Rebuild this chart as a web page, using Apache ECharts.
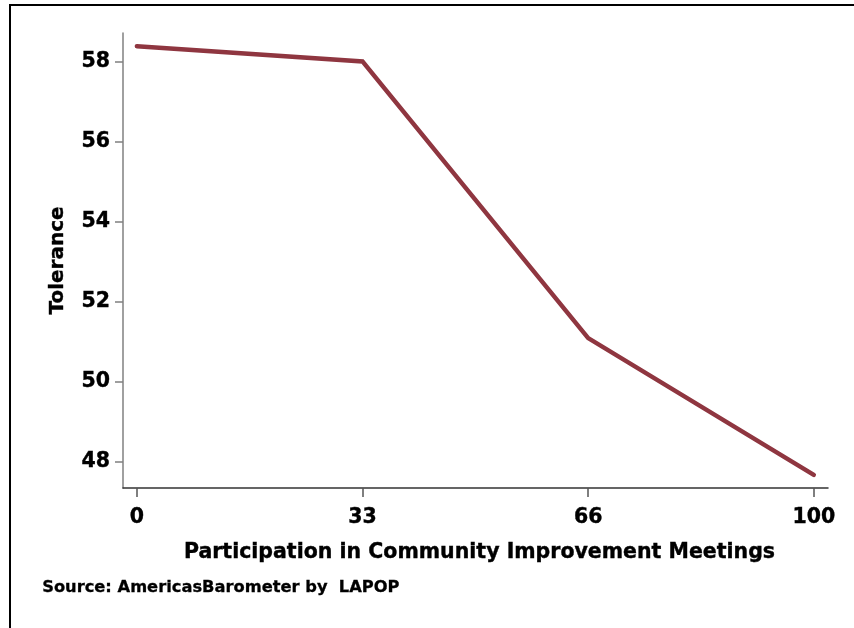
<!DOCTYPE html>
<html>
<head>
<meta charset="utf-8">
<script src="https://cdn.jsdelivr.net/npm/echarts@6/dist/echarts.min.js"></script>
<style>
  html, body { margin: 0; padding: 0; background: #fff; }
  #main { width: 854px; height: 628px; }
</style>
</head>
<body>
<div id="main"></div>
<script>
// participation levels (0-100 scale) and mean tolerance
const participation = [0, 33.33, 66.67, 100];
const tolerance = [58.39, 58.01, 51.09, 47.67];
const xTicks = [0, 33.33, 66.67, 100];
const yTicks = [48, 50, 52, 54, 56, 58];

const font = '"DejaVu Sans", sans-serif';
// a little heavier, like the original export
const heavy = { textBorderColor: '#000', textBorderWidth: 0.4 };

const dom = document.getElementById('main');
const myChart = echarts.init(dom);

let option = {
  animation: false,
  grid: { left: 123, top: 33, right: 26, bottom: 140 },
  xAxis: {
    type: 'value',
    min: -2.05,
    max: 102.1,
    name: 'Participation in Community Improvement Meetings',
    nameLocation: 'middle',
    nameGap: 54,
    nameTextStyle: Object.assign({ fontFamily: font, fontWeight: 'bold', fontSize: 20.5, color: '#000', padding: [0, 0, 0, 8] }, heavy),
    axisLine: { show: true, onZero: false, lineStyle: { color: '#333', width: 1.5 } },
    axisTick: { show: true, customValues: xTicks, length: 9, inside: false, lineStyle: { color: '#555', width: 1.5 } },
    axisLabel: Object.assign({
      customValues: xTicks,
      margin: 19,
      fontFamily: font, fontWeight: 'bold', fontSize: 20.5, color: '#000',
      formatter: v => String(Math.floor(v))
    }, heavy),
    splitLine: { show: false }
  },
  yAxis: {
    type: 'value',
    min: 47.34,
    max: 58.72,
    name: 'Tolerance',
    nameLocation: 'middle',
    nameRotate: 90,
    nameGap: 55,
    nameTextStyle: Object.assign({ fontFamily: font, fontWeight: 'bold', fontSize: 20, color: '#000' }, heavy),
    axisLine: { show: true, onZero: false, lineStyle: { color: '#808080', width: 1.5 } },
    axisTick: { show: true, customValues: yTicks, length: 8, lineStyle: { color: '#808080', width: 1.5 } },
    axisLabel: Object.assign({
      customValues: yTicks,
      margin: 13,
      fontFamily: font, fontWeight: 'bold', fontSize: 20.5, color: '#000'
    }, heavy),
    splitLine: { show: false }
  },
  series: [
    {
      type: 'line',
      data: participation.map((x, i) => [x, tolerance[i]]),
      showSymbol: false,
      symbol: 'none',
      lineStyle: { color: '#8f3640', width: 4.5, cap: 'round', join: 'miter' }
    }
  ],
  graphic: [
    {
      type: 'rect',
      shape: { x: 10, y: 5, width: 900, height: 700 },
      style: { fill: 'none', stroke: '#000', lineWidth: 2 },
      silent: true
    },
    {
      type: 'text',
      left: 42,
      top: 580,
      style: {
        text: 'Source: AmericasBarometer by  LAPOP',
        fontFamily: font, fontWeight: 'bold', fontSize: 16.3, fill: '#000',
        stroke: '#000', lineWidth: 0.3
      }
    }
  ]
};

myChart.setOption(option, true);
</script>
</body>
</html>
